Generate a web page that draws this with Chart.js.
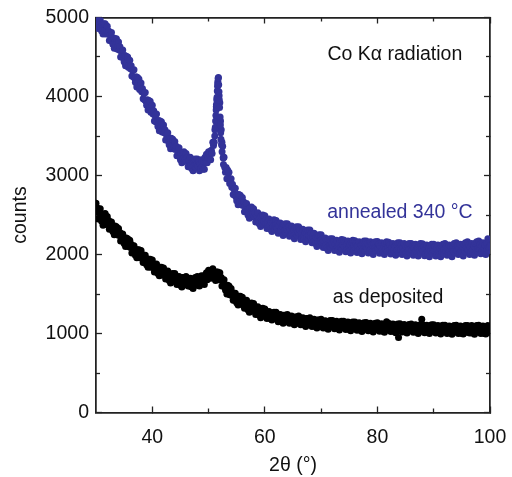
<!DOCTYPE html>
<html lang="en">
<head>
<meta charset="UTF-8" />
<title>XRD scans</title>
<script src="https://cdn.jsdelivr.net/npm/chart.js"></script>
<style>
  body { margin: 0; background: #fff; }
</style>
</head>
<body>
<canvas id="xrdChart" width="512" height="477"></canvas>
<script>
  // scan grid: 30..100 deg 2theta, 0.125 deg per point
  const scanStart = 30;
  const scanStep = 0.125;

  // annealed 340 C, one row per degree (8 points)
  const annealedCounts = [
    5040, 4940, 4990, 4860, 4940, 4870, 4970, 4870,
    4830, 4910, 4790, 4920, 4830, 4920, 4790, 4830,
    4890, 4790, 4830, 4710, 4780, 4710, 4810, 4710,
    4660, 4740, 4610, 4730, 4650, 4730, 4600, 4630,
    4690, 4590, 4630, 4500, 4570, 4500, 4590, 4490,
    4440, 4520, 4390, 4510, 4420, 4500, 4370, 4400,
    4460, 4350, 4390, 4260, 4330, 4250, 4340, 4230,
    4180, 4250, 4120, 4240, 4150, 4220, 4090, 4110,
    4170, 4060, 4100, 3970, 4040, 3960, 4050, 3940,
    3890, 3960, 3830, 3950, 3860, 3940, 3800, 3830,
    3890, 3780, 3820, 3690, 3760, 3680, 3780, 3670,
    3620, 3695, 3565, 3690, 3600, 3680, 3550, 3580,
    3640, 3540, 3580, 3450, 3520, 3450, 3540, 3440,
    3390, 3470, 3340, 3470, 3380, 3460, 3340, 3370,
    3430, 3330, 3370, 3250, 3320, 3250, 3350, 3250,
    3200, 3280, 3160, 3290, 3210, 3300, 3180, 3210,
    3280, 3180, 3230, 3110, 3190, 3120, 3230, 3130,
    3090, 3180, 3060, 3200, 3120, 3210, 3100, 3140,
    3210, 3120, 3180, 3060, 3150, 3090, 3200, 3110,
    3080, 3180, 3080, 3230, 3160, 3270, 3160, 3220,
    3300, 3220, 3300, 3200, 3320, 3280, 3420, 3380,
    3420, 3580, 3690, 3870, 3990, 4160, 4240, 4010,
    3920, 3690, 3580, 3420, 3370, 3230, 3230, 3100,
    3040, 3100, 2960, 3070, 2970, 3040, 2900, 2910,
    2960, 2850, 2890, 2760, 2830, 2750, 2840, 2730,
    2680, 2760, 2630, 2760, 2670, 2750, 2630, 2660,
    2720, 2620, 2665, 2540, 2615, 2545, 2645, 2545,
    2500, 2580, 2460, 2590, 2510, 2600, 2480, 2510,
    2580, 2480, 2530, 2410, 2490, 2420, 2530, 2430,
    2390, 2475, 2355, 2490, 2410, 2500, 2380, 2420,
    2490, 2400, 2450, 2330, 2410, 2350, 2450, 2360,
    2320, 2410, 2290, 2420, 2350, 2440, 2320, 2360,
    2430, 2340, 2390, 2270, 2360, 2290, 2400, 2310,
    2270, 2360, 2240, 2380, 2300, 2390, 2280, 2320,
    2390, 2300, 2350, 2230, 2320, 2250, 2360, 2270,
    2230, 2320, 2200, 2340, 2260, 2350, 2240, 2280,
    2350, 2260, 2310, 2190, 2280, 2210, 2320, 2230,
    2190, 2280, 2160, 2300, 2220, 2310, 2200, 2240,
    2310, 2220, 2270, 2150, 2230, 2160, 2270, 2170,
    2140, 2220, 2100, 2240, 2160, 2250, 2130, 2170,
    2250, 2150, 2200, 2090, 2170, 2100, 2210, 2120,
    2080, 2170, 2050, 2190, 2110, 2200, 2090, 2130,
    2200, 2110, 2160, 2050, 2130, 2070, 2180, 2090,
    2050, 2140, 2030, 2170, 2090, 2190, 2070, 2120,
    2185, 2095, 2150, 2035, 2120, 2060, 2170, 2080,
    2040, 2130, 2020, 2160, 2080, 2180, 2060, 2110,
    2175, 2085, 2140, 2025, 2110, 2050, 2160, 2070,
    2030, 2120, 2010, 2150, 2070, 2170, 2050, 2100,
    2170, 2080, 2140, 2020, 2110, 2050, 2160, 2070,
    2030, 2120, 2000, 2140, 2070, 2160, 2050, 2090,
    2165, 2075, 2130, 2015, 2100, 2040, 2150, 2060,
    2020, 2110, 2000, 2140, 2060, 2160, 2040, 2090,
    2155, 2065, 2120, 2005, 2090, 2030, 2140, 2050,
    2010, 2100, 1990, 2130, 2050, 2150, 2030, 2080,
    2150, 2060, 2120, 2000, 2090, 2030, 2140, 2050,
    2010, 2100, 1980, 2120, 2050, 2140, 2030, 2070,
    2140, 2050, 2110, 1990, 2080, 2020, 2130, 2040,
    2000, 2090, 1980, 2120, 2040, 2140, 2020, 2070,
    2135, 2045, 2100, 1985, 2070, 2010, 2120, 2030,
    2000, 2090, 1970, 2110, 2040, 2130, 2020, 2060,
    2130, 2050, 2100, 1980, 2070, 2000, 2120, 2030,
    1990, 2080, 1970, 2110, 2030, 2130, 2010, 2060,
    2140, 2050, 2100, 1990, 2080, 2010, 2120, 2040,
    2000, 2100, 1970, 2110, 2040, 2140, 2020, 2060,
    2150, 2050, 2110, 2000, 2080, 2020, 2130, 2040,
    2010, 2100, 1980, 2130, 2050, 2150, 2030, 2080,
    2160, 2060, 2120, 2000, 2090, 2030, 2140, 2050,
    2020, 2110, 1990, 2140, 2060, 2160, 2040, 2080,
    2170, 2070, 2130, 2010, 2100, 2040, 2150, 2060,
    2030, 2120, 2000, 2150, 2070, 2200, 2050, 2090,
    2100
  ];

  // extra points on the flanks of the sharp peak near 51.7 deg
  const annealedPeakAngles = [51.1, 51.2, 51.3, 51.35, 51.4, 51.45, 51.55, 51.6, 51.65, 51.7, 51.8,
                              51.85, 51.9, 51.95, 52.05, 52.1, 52.15, 52.2, 52.3, 52.4, 52.6, 52.65];
  const annealedPeakCounts = [3500, 3610, 3760, 3830, 3900, 3960, 4070, 4130, 4190, 4230, 4150,
                              4060, 3960, 3860, 3740, 3640, 3540, 3460, 3390, 3300, 3220, 3140];

  // as deposited, one row per degree (8 points)
  const depositedCounts = [
    2650, 2540, 2590, 2450, 2540, 2460, 2580, 2470,
    2420, 2510, 2370, 2510, 2430, 2520, 2380, 2420,
    2480, 2390, 2430, 2320, 2390, 2330, 2410, 2330,
    2290, 2360, 2250, 2360, 2290, 2350, 2250, 2280,
    2330, 2240, 2280, 2170, 2240, 2180, 2260, 2180,
    2140, 2210, 2100, 2210, 2140, 2200, 2100, 2130,
    2180, 2090, 2130, 2020, 2090, 2030, 2110, 2030,
    1990, 2060, 1960, 2060, 2000, 2060, 1960, 1990,
    2050, 1960, 2000, 1900, 1960, 1900, 1990, 1910,
    1870, 1940, 1840, 1940, 1880, 1940, 1840, 1870,
    1930, 1840, 1880, 1780, 1850, 1790, 1880, 1800,
    1760, 1830, 1730, 1840, 1770, 1840, 1740, 1770,
    1830, 1740, 1790, 1690, 1750, 1700, 1790, 1700,
    1670, 1740, 1640, 1750, 1690, 1760, 1660, 1700,
    1760, 1680, 1720, 1620, 1690, 1630, 1720, 1640,
    1610, 1680, 1590, 1710, 1650, 1710, 1620, 1660,
    1720, 1640, 1690, 1600, 1660, 1600, 1700, 1620,
    1590, 1670, 1570, 1690, 1630, 1710, 1610, 1650,
    1720, 1640, 1690, 1600, 1680, 1630, 1730, 1660,
    1630, 1710, 1620, 1740, 1690, 1770, 1680, 1730,
    1800, 1730, 1790, 1700, 1780, 1730, 1820, 1740,
    1700, 1770, 1670, 1780, 1710, 1780, 1680, 1710,
    1770, 1680, 1710, 1600, 1660, 1600, 1680, 1590,
    1550, 1610, 1500, 1610, 1540, 1600, 1490, 1520,
    1570, 1480, 1520, 1420, 1480, 1420, 1510, 1430,
    1390, 1460, 1360, 1470, 1400, 1470, 1370, 1400,
    1460, 1380, 1420, 1320, 1380, 1330, 1420, 1340,
    1300, 1370, 1270, 1380, 1315, 1385, 1285, 1320,
    1380, 1300, 1340, 1240, 1310, 1250, 1340, 1260,
    1230, 1300, 1200, 1310, 1250, 1320, 1220, 1260,
    1310, 1240, 1280, 1190, 1250, 1200, 1280, 1220,
    1190, 1250, 1170, 1260, 1210, 1270, 1190, 1220,
    1270, 1200, 1240, 1150, 1210, 1160, 1240, 1180,
    1150, 1210, 1130, 1230, 1170, 1230, 1150, 1190,
    1240, 1170, 1210, 1130, 1190, 1140, 1220, 1160,
    1130, 1190, 1110, 1210, 1150, 1210, 1130, 1170,
    1220, 1150, 1190, 1110, 1170, 1120, 1200, 1140,
    1110, 1170, 1090, 1190, 1130, 1190, 1110, 1150,
    1200, 1130, 1170, 1090, 1150, 1100, 1180, 1120,
    1090, 1150, 1070, 1170, 1110, 1170, 1090, 1130,
    1180, 1110, 1150, 1070, 1130, 1080, 1160, 1100,
    1070, 1135, 1055, 1155, 1100, 1165, 1085, 1120,
    1165, 1100, 1140, 1060, 1120, 1075, 1155, 1095,
    1060, 1125, 1045, 1145, 1090, 1155, 1075, 1110,
    1155, 1090, 1130, 1050, 1110, 1065, 1145, 1085,
    1050, 1115, 1035, 1135, 1080, 1145, 1065, 1100,
    1145, 1080, 1120, 1040, 1100, 1055, 1135, 1075,
    1040, 1105, 1025, 1125, 1070, 1135, 1055, 1090,
    1140, 1075, 1115, 1035, 1095, 1050, 1130, 1070,
    1035, 1100, 1020, 1120, 1065, 1130, 1050, 1085,
    1135, 1070, 1110, 1030, 1090, 1045, 1125, 1065,
    1030, 1095, 1015, 1115, 1060, 1150, 1045, 1080,
    1130, 1065, 1105, 1025, 1085, 1040, 1120, 1060,
    1025, 1090, 1010, 1110, 1055, 1120, 950, 1075,
    1125, 1060, 1100, 1020, 1080, 1035, 1115, 1055,
    1020, 1085, 1005, 1105, 1050, 1115, 1035, 1070,
    1120, 1055, 1095, 1015, 1075, 1030, 1110, 1050,
    1015, 1080, 1000, 1100, 1045, 1110, 1030, 1180,
    1115, 1050, 1090, 1010, 1070, 1025, 1105, 1045,
    1015, 1080, 1000, 1100, 1045, 1110, 1030, 1065,
    1110, 1045, 1085, 1005, 1065, 1020, 1100, 1040,
    1010, 1075, 995, 1095, 1040, 1105, 1025, 1060,
    1105, 1050, 1080, 1000, 1070, 1020, 1095, 1040,
    1005, 1070, 990, 1090, 1035, 1100, 1020, 1055,
    1105, 1040, 1080, 1000, 1060, 1015, 1095, 1035,
    1000, 1075, 995, 1085, 1040, 1100, 1015, 1060,
    1100, 1045, 1075, 1005, 1060, 1010, 1100, 1030,
    1005, 1070, 990, 1090, 1035, 1100, 1020, 1055,
    1105, 1040, 1080, 1000, 1060, 1015, 1095, 1035,
    1000, 1075, 995, 1085, 1040, 1100, 1015, 1060,
    1050
  ];

  const xMajorTicks = [40, 60, 80, 100];
  const xMinorTicks = [50, 70, 90];
  const yMajorTicks = [0, 1000, 2000, 3000, 4000, 5000];
  const yMinorTicks = [500, 1500, 2500, 3500, 4500];

  const notes = [
    { text: 'Co K\u03b1 radiation', x: 83.1, y: 4525, color: '#111' },
    { text: 'annealed 340 \u00b0C', x: 84.0, y: 2525, color: '#333399' },
    { text: 'as deposited', x: 81.9, y: 1450, color: '#111' }
  ];

  const blue = '#333399';
  const font = 'Liberation Sans, Arial, Helvetica, sans-serif';
  const fontSize = 19.5;

  function toPoints(values) {
    return values.map((v, i) => ({ x: scanStart + i * scanStep, y: v }));
  }
  const annealedPoints = toPoints(annealedCounts).concat(
    annealedPeakAngles.map((a, i) => ({ x: a, y: annealedPeakCounts[i] }))
  );

  // inward tick marks on all four sides; sizes fixed so the plot box lands where it should
  function axis(position, min, max, ticks, len, size, weight, labels) {
    return {
      type: 'linear', position, min, max, weight,
      afterBuildTicks: s => { s.ticks = ticks.map(v => ({ value: v })); },
      afterFit: s => {
        if (s.isHorizontal()) s.height = size; else s.width = size;
        s.paddingLeft = s.paddingRight = s.paddingTop = s.paddingBottom = 0;
      },
      grid: { drawOnChartArea: false, drawTicks: true, tickLength: -len, tickColor: '#222', tickWidth: 1.3 },
      border: { display: true, color: '#222', width: 1.5 },
      ticks: {
        display: labels, autoSkip: false, maxRotation: 0, color: '#111',
        padding: position === 'left' ? 13 : 19,
        callback: v => String(v),
        font: { family: font, size: fontSize }
      }
    };
  }

  const scales = {
    x: axis('bottom', 30, 100, xMajorTicks, 6, 64.5, 1, true),
    xMinor: axis('bottom', 30, 100, xMinorTicks, 4, 0, 0, false),
    xTop: axis('top', 30, 100, xMajorTicks, 6, 17.5, 1, false),
    xTopMinor: axis('top', 30, 100, xMinorTicks, 4, 0, 0, false),
    y: axis('left', 0, 5000, yMajorTicks, 6, 96, 1, true),
    yMinor: axis('left', 0, 5000, yMinorTicks, 4, 0, 0, false),
    yRight: axis('right', 0, 5000, yMajorTicks, 6, 22, 1, false),
    yRightMinor: axis('right', 0, 5000, yMinorTicks, 4, 0, 0, false)
  };
  scales.x.title = { display: true, text: '2\u03b8 (\u00b0)', color: '#111', padding: { top: 0, bottom: 0 }, font: { family: font, size: fontSize } };
  scales.y.title = { display: true, text: 'counts', color: '#111', padding: { top: 9, bottom: 0 }, font: { family: font, size: fontSize } };

  const notesPlugin = {
    id: 'notes',
    afterDatasetsDraw(chart) {
      const ctx = chart.ctx;
      const xs = chart.scales.x, ys = chart.scales.y;
      ctx.save();
      ctx.font = fontSize + 'px ' + font;
      ctx.textAlign = 'center';
      ctx.textBaseline = 'middle';
      notes.forEach(n => {
        ctx.fillStyle = n.color;
        ctx.fillText(n.text, xs.getPixelForValue(n.x), ys.getPixelForValue(n.y));
      });
      ctx.restore();
    }
  };

  new Chart(document.getElementById('xrdChart').getContext('2d'), {
    type: 'scatter',
    data: {
      datasets: [
        {
          label: 'as deposited',
          data: toPoints(depositedCounts),
          backgroundColor: '#000', borderWidth: 0, pointRadius: 3.5, clip: 0
        },
        {
          label: 'annealed 340 \u00b0C',
          data: annealedPoints,
          backgroundColor: blue, borderWidth: 0, pointRadius: 3.5, clip: 0
        }
      ]
    },
    options: {
      responsive: false,
      animation: false,
      layout: { padding: 0 },
      plugins: { legend: { display: false }, tooltip: { enabled: false } },
      scales
    },
    plugins: [notesPlugin]
  });
</script>
</body>
</html>
